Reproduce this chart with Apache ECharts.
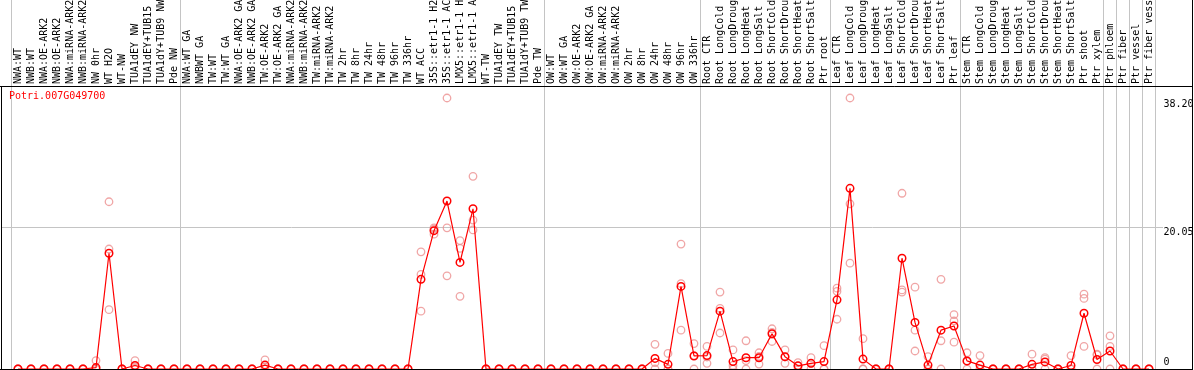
<!DOCTYPE html>
<html><head><meta charset="utf-8">
<script src="https://cdn.jsdelivr.net/npm/echarts@6/dist/echarts.min.js"></script>
<style>html,body{margin:0;padding:0;background:#fff;overflow:hidden}#c{width:1194px;height:370px}</style>
</head><body><div id="c"></div>
<script>
const geneId = 'Potri.007G049700';
const categories = [
 'NWA:WT','NWB:WT','NWA:OE-ARK2','NWB:OE-ARK2','NWA:miRNA-ARK2','NWB:miRNA-ARK2','NW 0hr','WT H2O','WT-NW','TUA1dEY NW',
 'TUA1dEY+TUB15 NW','TUA1dY+TUB9 NW','Pde NW','NWA:WT GA','NWBWT GA','TW:WT','TW:WT GA','NWA:OE-ARK2 GA','NWB:OE-ARK2 GA','TW:OE-ARK2',
 'TW:OE-ARK2 GA','NWA:miRNA-ARK2 GA','NWB:miRNA-ARK2 GA','TW:miRNA-ARK2','TW:miRNA-ARK2','TW 2hr','TW 8hr','TW 24hr','TW 48hr','TW 96hr',
 'TW 336hr','WT ACC','35S::etr1-1 H2O','35S::etr1-1 ACC','LMX5::etr1-1 H2O','LMX5::etr1-1 ACC','WT-TW','TUA1dEY TW','TUA1dEY+TUB15 TW','TUA1dY+TUB9 TW',
 'Pde TW','OW:WT','OW:WT GA','OW:OE-ARK2','OW:OE-ARK2 GA','OW:miRNA-ARK2','OW:miRNA-ARK2','OW 2hr','OW 8hr','OW 24hr',
 'OW 48hr','OW 96hr','OW 336hr','Root CTR','Root LongCold','Root LongDrought','Root LongHeat','Root LongSalt','Root ShortCold','Root ShortDrought',
 'Root ShortHeat','Root ShortSalt','Ptr root','Leaf CTR','Leaf LongCold','Leaf LongDrought','Leaf LongHeat','Leaf LongSalt','Leaf ShortCold','Leaf ShortDrought',
 'Leaf ShortHeat','Leaf ShortSalt','Ptr leaf','Stem CTR','Stem LongCold','Stem LongDrought','Stem LongHeat','Stem LongSalt','Stem ShortCold','Stem ShortDrought',
 'Stem ShortHeat','Stem ShortSalt','Ptr shoot','Ptr xylem','Ptr phloem','Ptr fiber','Ptr vessel','Ptr fiber vessel'
];
const meanValues = [
 0,0,0,0,0,0,0.2,16.4,0,0.5,
 0,0,0,0,0,0,0,0,0,0.55,
 0,0,0,0,0,0,0,0,0,0,
 0,12.7,19.6,23.8,15.1,22.7,0,0,0,0,
 0,0,0,0,0,0,0,0,0,1.5,
 0.66,11.7,1.85,1.9,8.2,1.05,1.6,1.6,5.0,1.75,
 0.45,0.8,1.05,9.8,25.6,1.4,0,0,15.7,6.6,
 0.55,5.5,6.1,1.15,0.55,0,0,0,0.66,1.0,
 0,0.5,7.9,1.35,2.55,0,0,0
];
const rep1 = [
 0,0,0,0,0,0,1.2,23.7,0,1.2,
 0,0,0,0,0,0,0,0,0,1.3,
 0,0,0,0,0,0,0,0,0,0,
 0,16.6,20.0,38.4,18.2,27.3,0,0,0,0,
 0,0,0,0,0,0,0,0,0,3.5,
 2.2,17.7,3.6,3.2,10.9,2.7,4.0,2.3,5.7,2.7,
 0.9,1.6,3.3,11.45,38.4,4.3,0,0,24.9,11.6,
 1.75,12.7,7.7,2.3,1.9,0,0,0,2.1,1.6,
 0,1.9,10.6,2.1,4.7,0,0,0
];
const rep2 = [
 0,0,0,0,0,0,0,17.0,0,0.3,
 0,0,0,0,0,0,0,0,0,0.3,
 0,0,0,0,0,0,0,0,0,0,
 0,13.4,19.8,20.0,17.1,21.1,0,0,0,0,
 0,0,0,0,0,0,0,0,0,0.9,
 0,12.1,1.9,1.7,8.6,0.5,1.2,1.8,5.2,1.7,
 0.4,0.8,0,11.0,23.4,0,0,0,11.2,5.5,
 0,4.0,6.8,1.1,0,0,0,0,0,1.4,
 0,0,10.0,2.0,3.2,0,0,0
];
const rep3 = [
 0,0,0,0,0,0,0,8.4,0,0,
 0,0,0,0,0,0,0,0,0,0,
 0,0,0,0,0,0,0,0,0,0,
 0,8.2,19.1,13.2,10.3,19.7,0,0,0,0,
 0,0,0,0,0,0,0,0,0,0,
 0,5.5,0,0.8,5.1,0,0,0.7,3.9,0.8,
 0,0,0,7.05,15.0,0,0,0,10.9,2.55,
 0,0,3.8,0,0,0,0,0,0,0,
 0,0,3.2,0,0,0,0,0
];
const yTickValues = [20.05, 38.20];
const yZeroTick = [0];
const yMax = 40.1;
const groupStarts = [0,13,41,53,63,73,84,85,86,87];

const FONT = 'DejaVu Sans Mono';
const GRIDC = '#c4c4c4';
const PINK = '#ec9090';
const splitFn = (idx) => groupStarts.indexOf(idx) >= 0;
const chart = echarts.init(document.getElementById('c'), null, {renderer: 'canvas'});
const repSeries = [rep1, rep2, rep3].map((arr) => ({
  type: 'scatter', xAxisIndex: 0, yAxisIndex: 0, silent: true, z: 2,
  data: arr.map((v, i) => [i, v]),
  symbol: 'circle', symbolSize: 7.5,
  itemStyle: {color: 'rgba(0,0,0,0)', borderColor: PINK, borderWidth: 1.3}
}));
chart.setOption({
  animation: false,
  backgroundColor: '#fff',
  title: {text: geneId, left: 9, top: 91, padding: 0,
    textStyle: {color: '#ff0000', fontFamily: FONT, fontSize: 10, fontWeight: 'normal'}},
  grid: [
    {left: 11.5, right: 38.5, top: 86, bottom: 1, containLabel: false, outerBoundsMode: 'none'},
    {left: 11.5, right: 38.5, top: 0, height: 86, containLabel: false, outerBoundsMode: 'none'},
    {left: 1, right: 31, top: 86, bottom: 1, containLabel: false, outerBoundsMode: 'none'}
  ],
  xAxis: [
    {gridIndex: 0, type: 'category', data: categories, position: 'top', boundaryGap: true,
     axisLine: {show: false}, axisTick: {show: false},
     axisLabel: {interval: 0, rotate: 90, margin: 2, fontFamily: FONT, fontSize: 10, color: '#000'},
     splitLine: {show: true, interval: splitFn, lineStyle: {color: GRIDC, width: 1}}},
    {gridIndex: 1, type: 'category', data: categories, boundaryGap: true,
     axisLine: {show: false}, axisTick: {show: false}, axisLabel: {show: false},
     splitLine: {show: true, interval: splitFn, lineStyle: {color: GRIDC, width: 1}}},
    {gridIndex: 2, type: 'value', show: false}
  ],
  yAxis: [
    {gridIndex: 0, type: 'value', min: 0, max: yMax, position: 'right',
     axisLine: {show: false}, axisTick: {show: false}, splitLine: {show: false},
     axisLabel: {customValues: yTickValues, formatter: (v) => v.toFixed(2), verticalAlign: 'top',
       margin: 8, fontFamily: FONT, fontSize: 10, color: '#000'}},
    {gridIndex: 0, type: 'value', min: 0, max: yMax, position: 'right',
     axisLine: {show: false}, axisTick: {show: false}, splitLine: {show: false},
     axisLabel: {customValues: yZeroTick, formatter: (v) => String(v), verticalAlign: 'bottom',
       padding: [0, 0, 2, 0], margin: 8, fontFamily: FONT, fontSize: 10, color: '#000'}},
    {gridIndex: 1, type: 'value', show: false},
    {gridIndex: 2, type: 'value', min: 0, max: yMax, interval: 20.05,
     axisLine: {show: false}, axisTick: {show: false}, axisLabel: {show: false},
     splitLine: {show: true, lineStyle: {color: GRIDC, width: 1}}}
  ],
  graphic: [
    {type: 'line', z: 100, silent: true, shape: {x1: 0, y1: 86.5, x2: 1193, y2: 86.5}, style: {stroke: '#000', lineWidth: 1}},
    {type: 'line', z: 100, silent: true, shape: {x1: 1.5, y1: 86, x2: 1.5, y2: 370}, style: {stroke: '#000', lineWidth: 1}},
    {type: 'line', z: 100, silent: true, shape: {x1: 0, y1: 369.5, x2: 1193, y2: 369.5}, style: {stroke: '#000', lineWidth: 1}},
    {type: 'line', z: 100, silent: true, shape: {x1: 1192.5, y1: 0, x2: 1192.5, y2: 370}, style: {stroke: '#000', lineWidth: 1}}
  ],
  series: repSeries.concat([{
    type: 'line', xAxisIndex: 0, yAxisIndex: 0, data: meanValues, z: 3, silent: true,
    symbol: 'circle', symbolSize: 7.5, showAllSymbol: true,
    lineStyle: {color: '#ff0000', width: 1.2},
    itemStyle: {color: 'rgba(0,0,0,0)', borderColor: '#ff0000', borderWidth: 1.5}
  }])
});
</script>
</body></html>
